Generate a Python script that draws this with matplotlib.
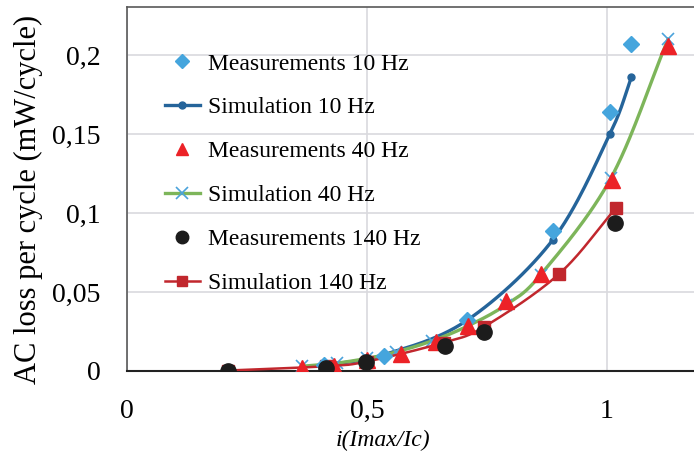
import numpy as np
import matplotlib
matplotlib.use("Agg")
import matplotlib.pyplot as plt
from matplotlib.lines import Line2D

plt.rcParams['font.family'] = ['Liberation Serif', 'DejaVu Serif']

# ---- data ----
meas10_x = [0.41, 0.535, 0.708, 0.887, 1.006, 1.051]
meas10_y = [0.004, 0.0097, 0.032, 0.0888, 0.164, 0.207]

sim10_x = [0.41, 0.535, 0.708, 0.887, 1.006, 1.051]
sim10_y = [0.0035, 0.0103, 0.032, 0.083, 0.150, 0.186]

meas40_x = [0.364, 0.431, 0.50, 0.57, 0.644, 0.71, 0.789, 0.862, 1.01, 1.128]
meas40_y = [0.002, 0.003, 0.007, 0.011, 0.0186, 0.0285, 0.044, 0.0614, 0.121, 0.2057]

sim40_x = [0.365, 0.437, 0.50, 0.56, 0.635, 0.71, 0.79, 0.862, 1.008, 1.127]
sim40_y = [0.003, 0.005, 0.008, 0.012, 0.019, 0.0285, 0.042, 0.061, 0.122, 0.210]

meas140_x = [0.21, 0.414, 0.497, 0.6625, 0.744, 1.017]
meas140_y = [0.0, 0.002, 0.006, 0.0158, 0.025, 0.0935]

sim140_x = [0.21, 0.414, 0.50, 0.66, 0.744, 0.90, 1.018]
sim140_y = [0.0003, 0.003, 0.006, 0.018, 0.028, 0.0614, 0.103]

x_ticks = [0, 0.5, 1]
x_tick_labels = ['0', '0,5', '1']
y_ticks = [0, 0.05, 0.1, 0.15, 0.2]
y_tick_labels = ['0', '0,05', '0,1', '0,15', '0,2']

labels = ['Measurements 10 Hz', 'Simulation 10 Hz', 'Measurements 40 Hz',
          'Simulation 40 Hz', 'Measurements 140 Hz', 'Simulation 140 Hz']


def smooth(xs, ys, n=30):
    """Excel-like smoothed line (uniform Catmull-Rom through the points)."""
    p = np.column_stack([xs, ys]).astype(float)
    pts = np.vstack([p[0] * 2 - p[1], p, p[-1] * 2 - p[-2]])
    out = []
    for i in range(1, len(pts) - 2):
        p0, p1, p2, p3 = pts[i - 1], pts[i], pts[i + 1], pts[i + 2]
        t = np.linspace(0, 1, n)[:, None]
        seg = 0.5 * ((2 * p1) + (-p0 + p2) * t + (2 * p0 - 5 * p1 + 4 * p2 - p3) * t ** 2
                     + (-p0 + 3 * p1 - 3 * p2 + p3) * t ** 3)
        out.append(seg if i == 1 else seg[1:])
    s = np.vstack(out)
    return s[:, 0], s[:, 1]


W, H = 694, 459
fig = plt.figure(figsize=(W / 100, H / 100), dpi=100)
ax = fig.add_axes([127 / W, (H - 371) / H, 576 / W, 364 / H])

c_m10 = '#45A5DD'
c_s10 = '#25649A'
c_m40 = '#EC2227'
c_s40 = '#7DB55A'
c_s40m = '#4BA3DB'
c_m140 = '#1C1C1C'
c_s140 = '#C1272D'

# simulations (smoothed lines)
sx, sy = smooth(sim10_x, sim10_y)
ax.plot(sx, sy, color=c_s10, lw=2.4, zorder=3)
ax.plot(sim10_x, sim10_y, ls='none', marker='o', ms=5, color=c_s10, zorder=3)

sx, sy = smooth(sim40_x, sim40_y)
ax.plot(sx, sy, color=c_s40, lw=2.4, zorder=3)
ax.plot(sim40_x, sim40_y, ls='none', marker='x', ms=9, mew=1.2, color=c_s40m, zorder=3)

sx, sy = smooth(sim140_x, sim140_y)
ax.plot(sx, sy, color=c_s140, lw=1.8, zorder=4)
ax.plot(sim140_x, sim140_y, ls='none', marker='s', ms=8, color=c_s140, zorder=4)

# measurements
ax.plot(meas10_x, meas10_y, ls='none', marker='D', ms=8, color=c_m10, zorder=5)
ax.plot(meas40_x, meas40_y, ls='none', marker='^', ms=11, color=c_m40, zorder=5)
ax.plot(meas140_x, meas140_y, ls='none', marker='o', ms=11, color=c_m140, zorder=5)

ax.set_xlim(0, 1.2)
ax.set_ylim(0, 0.2304)
ax.set_xticks(x_ticks)
ax.set_xticklabels(x_tick_labels)
ax.set_yticks(y_ticks)
ax.set_yticklabels(y_tick_labels)
ax.tick_params(length=0, labelsize=20, pad=19)
ax.tick_params(axis='x', pad=20)
ax.grid(True, color='#D9D9DE', lw=1.2, zorder=0)
ax.set_axisbelow(True)
for s in ['top', 'left', 'right']:
    ax.spines[s].set_color('#595959')
    ax.spines[s].set_linewidth(1.2)
ax.spines['bottom'].set_color('#222222')
ax.spines['bottom'].set_linewidth(1.5)

ax.set_ylabel('AC loss per cycle (mW/cycle)', fontsize=22)
ax.yaxis.set_label_coords(-(127 - 43) / 576, (371 - 199) / 364)
fig.text(383 / W, 1 - 440 / H, 'i(Imax/Ic)', fontsize=17, style='italic',
         ha='center', va='center')

handles = [
    Line2D([], [], ls='none', marker='D', ms=7, color=c_m10),
    Line2D([], [], color=c_s10, lw=2.4, marker='o', ms=5),
    Line2D([], [], ls='none', marker='^', ms=9, color=c_m40),
    Line2D([], [], color=c_s40, lw=2.4, marker='x', ms=9, mew=1.2, mec=c_s40m),
    Line2D([], [], ls='none', marker='o', ms=9, color=c_m140),
    Line2D([], [], color=c_s140, lw=1.8, marker='s', ms=7),
]
ax.legend(handles, labels, loc='upper left',
          bbox_to_anchor=((165 - 127) / 576, (371 - 53) / 364),
          frameon=False, fontsize=17, borderpad=0, borderaxespad=0,
          handlelength=1.48, handletextpad=0.34, labelspacing=0.95)

fig.savefig('out.png', dpi=100)
